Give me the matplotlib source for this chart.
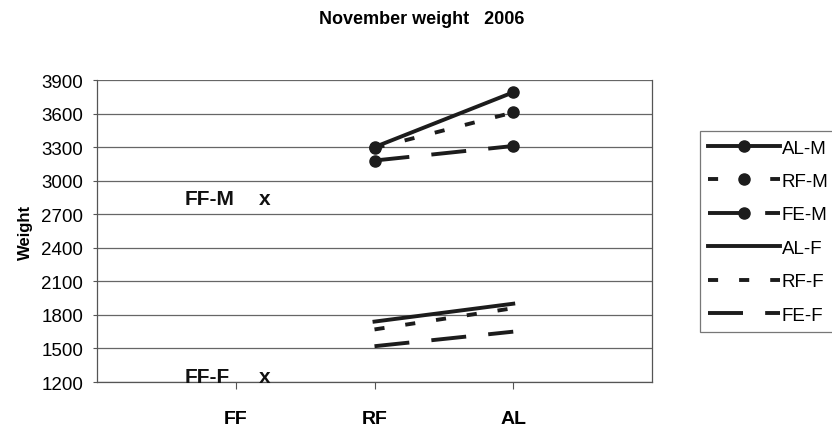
import matplotlib.pyplot as plt

plt.rcParams['font.family'] = ['Liberation Sans', 'DejaVu Sans']

# categories on the x axis (FF has no line data, only the text marks)
categories = ['FF', 'RF', 'AL']
line_x = ['RF', 'AL']

# male series (RF, AL)
al_m = [3300, 3790]
rf_m = [3290, 3610]
fe_m = [3180, 3310]
# female series (RF, AL)
al_f = [1740, 1900]
rf_f = [1670, 1860]
fe_f = [1520, 1650]

yticks = [1200, 1500, 1800, 2100, 2400, 2700, 3000, 3300, 3600, 3900]

# hand-written FF marks (label, weight)
ff_notes = [('FF-M', 2845), ('FF-F', 1245)]

fig = plt.figure(figsize=(8.32, 4.31), dpi=100)
ax = fig.add_axes([97 / 832, 1 - 383 / 431, (652 - 97) / 832, (383 - 81) / 431])

pos = {c: i + 1 for i, c in enumerate(categories)}
xs = [pos[c] for c in line_x]

col = '#1c1c1c'
lw = 2.8
short = (0, (2.6, 5.4))
long_ = (0, (9.0, 5.7))

ax.plot(xs, al_m, color=col, lw=lw, ls='-', marker='o', ms=8, label='AL-M')
ax.plot(xs, rf_m, color=col, lw=lw, ls=short, marker='o', ms=8, label='RF-M')
ax.plot(xs, fe_m, color=col, lw=lw, ls=long_, marker='o', ms=8, label='FE-M')
ax.plot(xs, al_f, color=col, lw=lw, ls='-', label='AL-F')
ax.plot(xs, rf_f, color=col, lw=lw, ls=short, label='RF-F')
ax.plot(xs, fe_f, color=col, lw=lw, ls=long_, label='FE-F')

for lab, w in ff_notes:
    ax.text(0.633, w, lab, fontsize=15, fontweight='bold', va='center', color='#111')
    ax.text(1.17, w, 'x', fontsize=15, fontweight='bold', va='center', color='#111')

ax.set_xlim(0, 4)
ax.set_ylim(1200, 3900)
ax.set_yticks(yticks)
ax.set_xticks([pos[c] for c in categories])
ax.set_xticklabels(categories, fontsize=14, fontweight='bold')
ax.tick_params(axis='x', length=5, pad=15, color='#555')
ax.tick_params(axis='y', length=3, labelsize=13.5, pad=7, color='#555')
ax.yaxis.grid(True, color='#666', lw=0.9)
ax.set_axisbelow(True)
for s in ax.spines.values():
    s.set_color('#555')
    s.set_linewidth(0.9)
ax.spines['top'].set_visible(False)

ax.set_ylabel('Weight', fontsize=12, fontweight='bold', labelpad=6)
fig.text(422 / 832, 1 - 19 / 431, 'November weight   2006', ha='center', va='center',
         fontsize=13, fontweight='bold')

leg = ax.legend(loc='upper left', bbox_to_anchor=(700 / 832, 1 - 132 / 431),
                bbox_transform=fig.transFigure, frameon=True, fancybox=False,
                fontsize=13.5, handlelength=3.8, handletextpad=0.1, labelspacing=0.87,
                borderpad=0.45, borderaxespad=0)
leg.get_frame().set_edgecolor('#555')
leg.get_frame().set_linewidth(0.9)

fig.savefig('out.png', dpi=100)
